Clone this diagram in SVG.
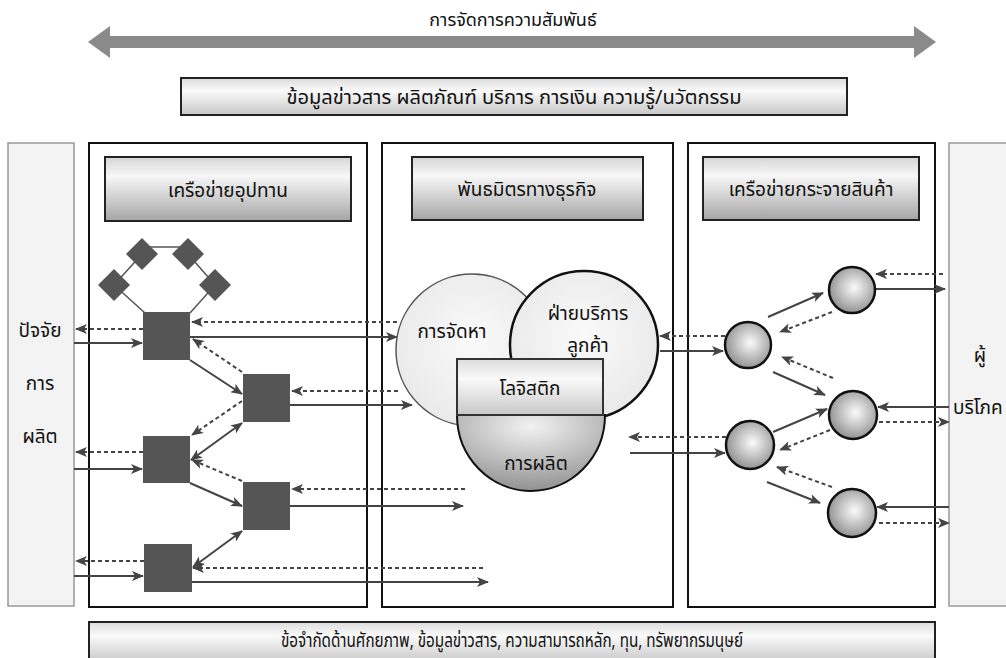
<svg xmlns="http://www.w3.org/2000/svg" width="1006" height="658" viewBox="0 0 1006 658">
<style>
text{font-family:"Noto Sans Thai","Liberation Sans","DejaVu Sans",sans-serif;fill:#111;text-anchor:middle;}
.t{font-size:19px;}
.panel{fill:#fff;stroke:#111;stroke-width:2;}
.side{fill:#f3f3f3;stroke:#999;stroke-width:1.5;}
.hdr{fill:url(#gHdr);stroke:#222;stroke-width:2;}
.sq{fill:#555;}
.sol{stroke:#444;stroke-width:2;fill:none;marker-end:url(#ah);}
.dsh{stroke:#444;stroke-width:2;fill:none;stroke-dasharray:4 3;marker-end:url(#ah);}
.dbl{stroke:#444;stroke-width:2;fill:none;marker-end:url(#ah);marker-start:url(#ahs);}
.ball{fill:url(#gBall);stroke:#111;stroke-width:2.5;}
</style>
<defs>
<linearGradient id="gHdr" x1="0" y1="0" x2="0" y2="1">
<stop offset="0" stop-color="#d6d6d6"/>
<stop offset="0.3" stop-color="#f7f7f7"/>
<stop offset="1" stop-color="#a5a5a5"/>
</linearGradient>
<linearGradient id="gBar" x1="0" y1="0" x2="0" y2="1">
<stop offset="0" stop-color="#dcdcdc"/>
<stop offset="0.35" stop-color="#fafafa"/>
<stop offset="1" stop-color="#c8c8c8"/>
</linearGradient>
<radialGradient id="gBall" cx="0.55" cy="0.45" r="0.6">
<stop offset="0" stop-color="#fbfbfb"/>
<stop offset="1" stop-color="#8a8a8a"/>
</radialGradient>
<radialGradient id="gLight" cx="0.5" cy="0.45" r="0.6">
<stop offset="0" stop-color="#fafafa"/>
<stop offset="1" stop-color="#e8e8e8"/>
</radialGradient>
<radialGradient id="gProd" cx="0.5" cy="0.15" r="0.9">
<stop offset="0" stop-color="#f2f2f2"/>
<stop offset="1" stop-color="#8c8c8c"/>
</radialGradient>
<marker id="ah" markerUnits="userSpaceOnUse" markerWidth="12" markerHeight="10" refX="11" refY="5" orient="auto">
<path d="M0,0 L12,5 L0,10 L3,5 Z" fill="#444"/>
</marker>
<marker id="ahs" markerUnits="userSpaceOnUse" markerWidth="12" markerHeight="10" refX="1" refY="5" orient="auto">
<path d="M12,0 L0,5 L12,10 L9,5 Z" fill="#444"/>
</marker>
</defs>
<rect width="1006" height="658" fill="#fff"/>

<g id="relationship">
<text x="513" y="26" style="font-size:18px">การจัดการความสัมพันธ์</text>
<polygon points="88,42 110,26 110,36 914,36 914,26 936,42 914,58 914,48 110,48 110,58" fill="#8a8a8a"/>
</g>

<g id="flows-bar">
<rect x="181" y="78" width="666" height="37" fill="url(#gBar)" stroke="#222" stroke-width="2"/>
<text x="514" y="104" style="font-size:19px" textLength="455" lengthAdjust="spacingAndGlyphs">ข้อมูลข่าวสาร ผลิตภัณฑ์ บริการ การเงิน ความรู้/นวัตกรรม</text>
</g>

<g id="factors">
<rect class="side" x="8" y="143" width="66" height="463"/>
<text class="t" x="40" y="337">ปัจจัย</text>
<text class="t" x="40" y="390">การ</text>
<text class="t" x="40" y="443">ผลิต</text>
</g>

<g id="consumer">
<rect class="side" x="949" y="143" width="70" height="463"/>
<text class="t" x="980" y="362">ผู้</text>
<text class="t" x="953" y="414" style="text-anchor:start">บริโภค</text>
</g>

<g id="supply-panel">
<rect class="panel" x="89" y="143" width="278" height="464"/>
<rect class="hdr" x="105" y="157" width="246" height="64"/>
<text class="t" x="228" y="197">เครือข่ายอุปทาน</text>
</g>

<g id="partner-panel">
<rect class="panel" x="382" y="143" width="291" height="464"/>
<rect class="hdr" x="412" y="157" width="231" height="63"/>
<text class="t" x="527" y="196">พันธมิตรทางธุรกิจ</text>
</g>

<g id="distribution-panel">
<rect class="panel" x="688" y="143" width="247" height="464"/>
<rect class="hdr" x="703" y="157" width="216" height="63"/>
<text class="t" x="811" y="196">เครือข่ายกระจายสินค้า</text>
</g>

<g id="constraints-bar">
<rect x="89" y="622" width="846" height="40" fill="url(#gBar)" stroke="#222" stroke-width="2"/>
<text x="512" y="647" style="font-size:19px" textLength="462" lengthAdjust="spacingAndGlyphs">ข้อจำกัดด้านศักยภาพ, ข้อมูลข่าวสาร, ความสามารถหลัก, ทุน, ทรัพยากรมนุษย์</text>
</g>

<g id="supplier-ring">
<path d="M142,247 L188,247 M142,254 L114,285 M188,254 L215,285 M114,285 L145,313 M215,285 L190,313" stroke="#555" stroke-width="1.5" fill="none"/>
<polygon class="sq" points="142,238 158,254 142,270 126,254"/>
<polygon class="sq" points="188,238 204,254 188,270 172,254"/>
<polygon class="sq" points="114,269 130,285 114,301 98,285"/>
<polygon class="sq" points="215,269 231,285 215,301 199,285"/>
</g>

<g id="connectors">
<line class="dsh" x1="143" y1="329" x2="76" y2="329"/>
<line class="sol" x1="74" y1="343" x2="142" y2="343"/>
<line class="dsh" x1="143" y1="452" x2="76" y2="452"/>
<line class="sol" x1="74" y1="469" x2="142" y2="469"/>
<line class="dsh" x1="144" y1="561" x2="76" y2="561"/>
<line class="sol" x1="74" y1="576" x2="143" y2="576"/>
<line class="sol" x1="190" y1="360" x2="242" y2="394"/>
<line class="dsh" x1="242" y1="372" x2="193" y2="339"/>
<line class="dsh" x1="242" y1="401" x2="192" y2="435"/>
<line class="dbl" x1="191" y1="460" x2="242" y2="423"/>
<line class="dsh" x1="242" y1="481" x2="192" y2="460"/>
<line class="sol" x1="190" y1="483" x2="242" y2="506"/>
<line class="dbl" x1="193" y1="567" x2="242" y2="531"/>
<line class="dsh" x1="397" y1="322" x2="192" y2="322"/>
<line class="sol" x1="190" y1="337" x2="397" y2="337"/>
<line class="dsh" x1="398" y1="391" x2="292" y2="391"/>
<line class="sol" x1="290" y1="405" x2="412" y2="405"/>
<line class="dsh" x1="465" y1="489" x2="292" y2="489"/>
<line class="sol" x1="290" y1="506" x2="463" y2="506"/>
<line class="dsh" x1="483" y1="568" x2="193" y2="568"/>
<line class="sol" x1="192" y1="582" x2="488" y2="582"/>
<line class="dsh" x1="725" y1="336" x2="660" y2="336"/>
<line class="sol" x1="660" y1="351" x2="723" y2="351"/>
<line class="dsh" x1="726" y1="437" x2="629" y2="437"/>
<line class="sol" x1="630" y1="453" x2="725" y2="453"/>
<line class="sol" x1="768" y1="317" x2="823" y2="293"/>
<line class="dsh" x1="832" y1="312" x2="780" y2="332"/>
<line class="dsh" x1="833" y1="378" x2="782" y2="357"/>
<line class="sol" x1="773" y1="372" x2="825" y2="395"/>
<line class="sol" x1="773" y1="432" x2="827" y2="409"/>
<line class="dsh" x1="830" y1="430" x2="780" y2="450"/>
<line class="dsh" x1="832" y1="487" x2="777" y2="467"/>
<line class="sol" x1="767" y1="482" x2="820" y2="503"/>
<line class="dsh" x1="943" y1="274" x2="876" y2="274"/>
<line class="sol" x1="875" y1="289" x2="945" y2="289"/>
<line class="sol" x1="949" y1="407" x2="878" y2="407"/>
<line class="dsh" x1="879" y1="422" x2="949" y2="422"/>
<line class="sol" x1="949" y1="507" x2="877" y2="507"/>
<line class="dsh" x1="879" y1="523" x2="949" y2="523"/>
</g>

<g id="sq1"><rect class="sq" x="143" y="312" width="47" height="48"/></g>
<g id="sq2"><rect class="sq" x="243" y="374" width="47" height="48"/></g>
<g id="sq3"><rect class="sq" x="143" y="436" width="47" height="47"/></g>
<g id="sq4"><rect class="sq" x="243" y="482" width="47" height="48"/></g>
<g id="sq5"><rect class="sq" x="144" y="544" width="48" height="48"/></g>

<g id="procurement">
<circle cx="472" cy="350" r="76" fill="url(#gLight)" stroke="#555" stroke-width="1.5"/>
<text class="t" x="452" y="338">การจัดหา</text>
</g>
<g id="customer-service">
<circle cx="584" cy="345" r="74" fill="url(#gLight)" stroke="#111" stroke-width="2.5"/>
<text class="t" x="588" y="320">ฝ่ายบริการ</text>
<text class="t" x="588" y="352">ลูกค้า</text>
</g>
<g id="production">
<path d="M457,415 A74,76 0 0 0 605,415 Z" fill="url(#gProd)" stroke="#111" stroke-width="2"/>
<text class="t" x="536" y="470">การผลิต</text>
</g>
<g id="logistics">
<rect x="457" y="359" width="146" height="56" fill="url(#gBar)" stroke="#333" stroke-width="2"/>
<text class="t" x="530" y="395">โลจิสติก</text>
</g>

<g id="dc1"><circle class="ball" cx="852" cy="290" r="23"/></g>
<g id="dc2"><circle class="ball" cx="748" cy="345" r="23"/></g>
<g id="dc3"><circle class="ball" cx="853" cy="415" r="24"/></g>
<g id="dc4"><circle class="ball" cx="750" cy="445" r="24"/></g>
<g id="dc5"><circle class="ball" cx="852" cy="513" r="24"/></g>
</svg>
